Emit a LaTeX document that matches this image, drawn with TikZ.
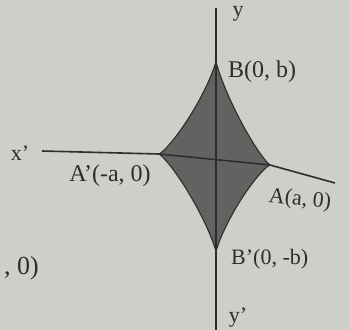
\documentclass[tikz,border=0pt]{standalone}
\usepackage{fontspec}
\setmainfont{Liberation Serif}
\definecolor{paperGray}{RGB}{207,207,201}
\definecolor{inkGray}{RGB}{45,45,45}
\definecolor{shadeGray}{RGB}{98,98,96}
\tikzset{
  axisline/.style={draw=inkGray,line width=1.6pt},
  lbl/.style={text=inkGray,inner sep=0pt,font=\fontsize{22}{24}\selectfont},
  biglbl/.style={lbl,font=\fontsize{24}{26}\selectfont}
}
\begin{document}
\begin{tikzpicture}[x=1pt,y=-1pt]
\fill[paperGray] (0,0) rectangle (349,330);
\useasboundingbox (0,0) rectangle (349,330);
% vertices of the curve
\coordinate (O) at (216,158);
\coordinate (A) at (270,165);
\coordinate (B) at (216,61);
\coordinate (Ap) at (159,154);
\coordinate (Bp) at (216,252);
% axis ends
\coordinate (xl) at (42,151);
\coordinate (xr) at (335,183);
\coordinate (yt) at (216,8);
\coordinate (yb) at (216,332);
% shaded region with concave sides
\filldraw[fill=shadeGray,draw=inkGray,line width=1.1pt]
  (A) -- plot[domain=1:89,samples=30] ({216+54*pow(cos(\x),2.4)},{158+7*pow(cos(\x),2.4)-97*pow(sin(\x),2.4)})
  -- (B) -- plot[domain=91:179,samples=30] ({216-57*pow(abs(cos(\x)),2.4)},{158-4*pow(abs(cos(\x)),2.4)-97*pow(sin(\x),2.4)})
  -- (Ap) -- plot[domain=181:269,samples=30] ({216-57*pow(abs(cos(\x)),2.4)},{158-4*pow(abs(cos(\x)),2.4)+94*pow(abs(sin(\x)),2.4)})
  -- (Bp) -- plot[domain=271:359,samples=30] ({216+54*pow(cos(\x),2.4)},{158+7*pow(cos(\x),2.4)+94*pow(abs(sin(\x)),2.4)})
  -- cycle;
% axes
\draw[axisline] (yt) -- (yb);
\draw[axisline] (xl) -- (Ap) -- (A) -- (xr);
% labels
\node[lbl] (ylab) at (238,14) {y};
\node[biglbl,anchor=west] (lB) at (228,72) {B(0, b)};
\node[lbl] (xlab) at (20,153) {x'};
\node[biglbl] (lAp) at (110,176) {A'(-a, 0)};
\node[lbl,rotate=-6] (lA) at (300,200) {A(a, 0)};
\node[lbl,anchor=west] (lBp) at (231,259) {B'(0, -b)};
\node[lbl] (yplab) at (238,318) {y'};
\node[lbl,anchor=east,font=\fontsize{26}{28}\selectfont] (cut) at (39,268) {, 0)};
\end{tikzpicture}
\end{document}
